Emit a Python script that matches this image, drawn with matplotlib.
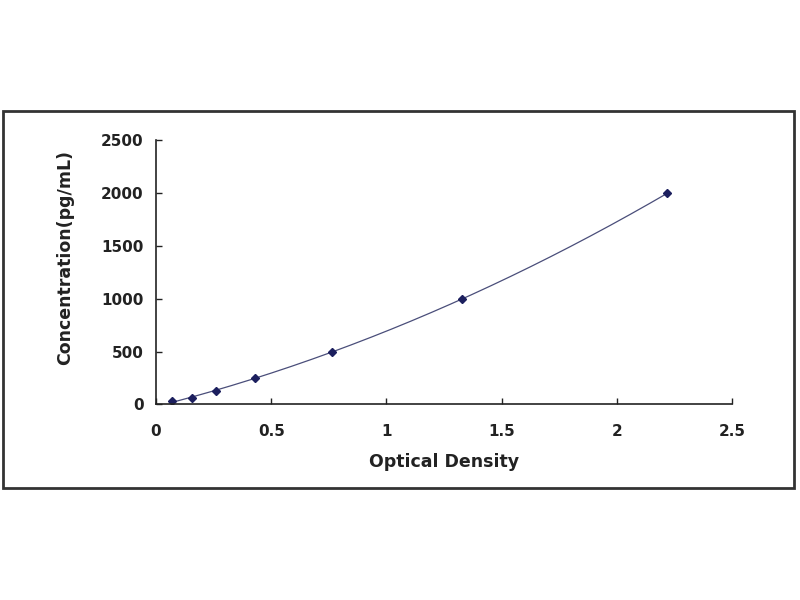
import numpy as np
import matplotlib
matplotlib.use("Agg")
import matplotlib.pyplot as plt
from matplotlib.patches import Rectangle

# standard curve points
optical_density = [0.07, 0.157, 0.26, 0.43, 0.765, 1.33, 2.22]
concentration = [31.25, 62.5, 125, 250, 500, 1000, 2000]

x_ticks = [0, 0.5, 1, 1.5, 2, 2.5]
x_tick_labels = ["0", "0.5", "1", "1.5", "2", "2.5"]
y_ticks = [0, 500, 1000, 1500, 2000, 2500]

NAVY = "#1c1f5e"


def main():
    fig = plt.figure(figsize=(8, 6), dpi=100)
    fig.patch.set_facecolor("white")

    # outer frame around the chart area
    fig.patches.append(Rectangle((0.004, 0.187), 0.988, 0.628,
                                 transform=fig.transFigure, fill=False,
                                 edgecolor="#333333", linewidth=2))

    ax = fig.add_axes([0.195, 0.326, 0.72, 0.44])

    # trendline fitted to the standards
    coef = np.polyfit(optical_density, concentration, 2)
    xs = np.linspace(min(optical_density), max(optical_density), 200)
    ax.plot(xs, np.polyval(coef, xs), color="#4a4e7a", linewidth=0.9)
    ax.plot(optical_density, concentration, linestyle="none", marker="D",
            markersize=4, color=NAVY)

    ax.set_xlim(0, 2.5)
    ax.set_ylim(0, 2500)
    ax.set_xticks(x_ticks)
    ax.set_xticklabels(x_tick_labels)
    ax.set_yticks(y_ticks)

    for side in ("top", "right"):
        ax.spines[side].set_visible(False)
    for side in ("left", "bottom"):
        ax.spines[side].set_color("#222222")
        ax.spines[side].set_linewidth(1.2)

    ax.tick_params(axis="both", direction="in", length=4, width=1,
                   colors="#222222", labelsize=11)
    ax.tick_params(axis="x", pad=14)
    ax.tick_params(axis="y", pad=9)
    for lab in ax.get_xticklabels() + ax.get_yticklabels():
        lab.set_fontweight("bold")
        lab.set_color("#222222")

    ax.set_xlabel("Optical Density", fontsize=12.5, fontweight="bold",
                  color="#222222")
    ax.set_ylabel("Concentration(pg/mL)", fontsize=12.5, fontweight="bold",
                  color="#222222")
    ax.xaxis.set_label_coords(0.5, -0.183)
    ax.yaxis.set_label_coords(-0.142, 0.555)

    fig.savefig("out.png", dpi=100, facecolor="white")


if __name__ == "__main__":
    main()
